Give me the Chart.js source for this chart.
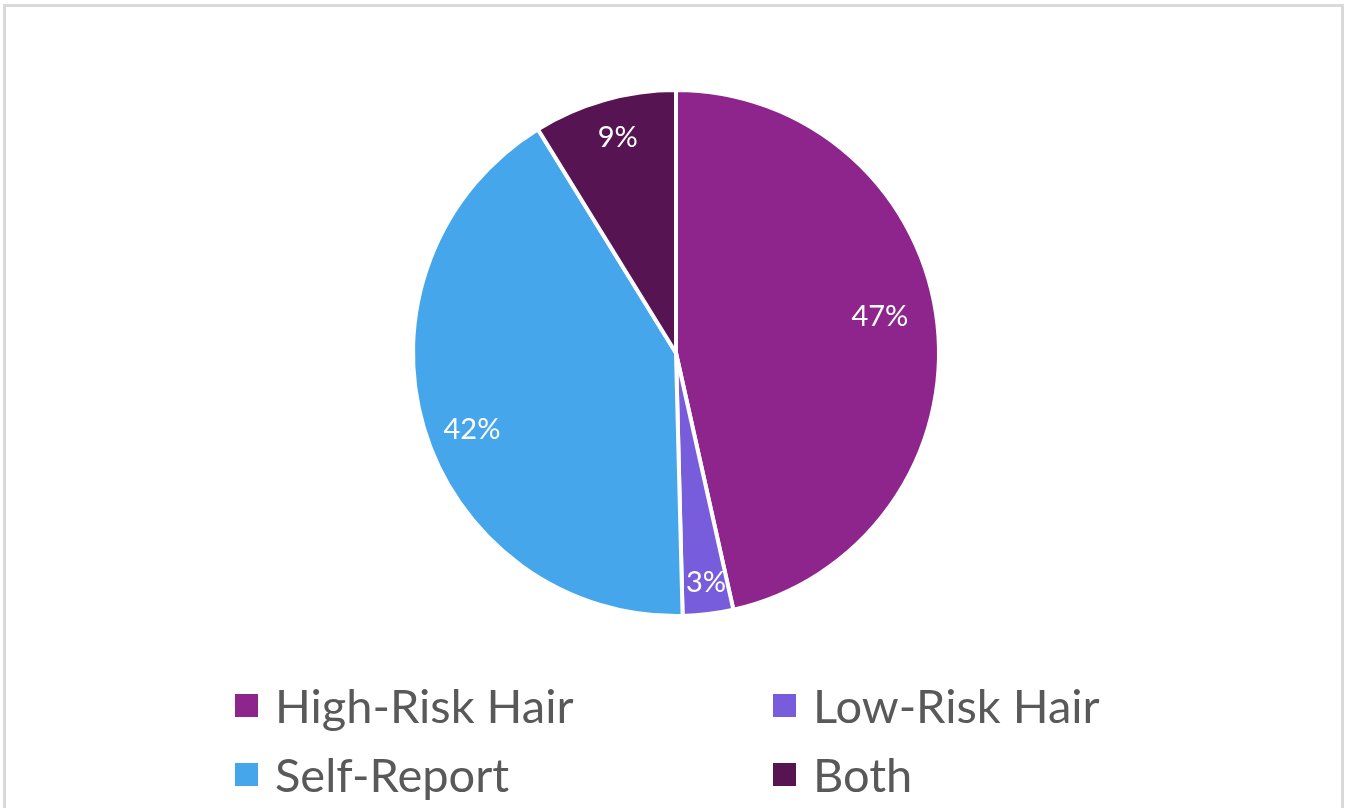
<!DOCTYPE html>
<html>
<head>
<meta charset="utf-8">
<script src="https://cdn.jsdelivr.net/npm/chart.js@4.4.1/dist/chart.umd.min.js"></script>
<style>
  html, body { margin: 0; padding: 0; background: #fff; }
  body { width: 1354px; height: 808px; position: relative; overflow: hidden; font-family: Lato, "Open Sans", sans-serif; }
  #frame { position: absolute; left: 3px; top: 4px; width: 1341px; height: 820px; border: 3px solid #d9d9d9; box-sizing: border-box; }
  #wrap { position: absolute; left: 0; top: 0; width: 1354px; height: 808px; }
  #legend { position: absolute; left: 0; top: 0; width: 1354px; height: 808px; pointer-events: none; }
  .item { position: absolute; display: flex; align-items: center; color: #595959; font-size: 47px; line-height: 1; white-space: nowrap; }
  .sw { width: 23px; height: 23px; margin-right: 17px; flex: none; }
</style>
</head>
<body>
<div id="frame"></div>
<div id="wrap"><canvas id="c" width="1354" height="808"></canvas></div>
<div id="legend"></div>
<script>
const categories = ["High-Risk Hair", "Low-Risk Hair", "Self-Report", "Both"];
const shares = [46.5, 3.1, 41.6, 8.8];
const shareLabels = ["47%", "3%", "42%", "9%"];
const sliceColors = ["#8e258d", "#775ddb", "#46a6ec", "#561552"];

const labelPlugin = {
  id: 'sliceLabels',
  afterDatasetsDraw(chart) {
    const ctx = chart.ctx;
    const meta = chart.getDatasetMeta(0);
    const fracs = [0.787, 0.882, 0.829, 0.848];
    const shiftDeg = [-3.7, -0.4, -4.1, 0.7];
    ctx.save();
    ctx.fillStyle = '#ffffff';
    ctx.font = '29px Lato, "Open Sans", sans-serif';
    ctx.textAlign = 'center';
    ctx.textBaseline = 'middle';
    meta.data.forEach((arc, i) => {
      const p = arc.getProps(['x', 'y', 'startAngle', 'endAngle', 'outerRadius'], true);
      const mid = (p.startAngle + p.endAngle) / 2 + shiftDeg[i] * Math.PI / 180;
      const r = p.outerRadius * fracs[i];
      ctx.fillText(shareLabels[i], p.x + Math.cos(mid) * r, p.y + Math.sin(mid) * r);
    });
    ctx.restore();
  }
};

const chart = new Chart(document.getElementById('c'), {
  type: 'pie',
  data: {
    labels: categories,
    datasets: [{
      data: shares,
      backgroundColor: sliceColors,
      borderColor: '#ffffff',
      borderWidth: 4,
      radius: 263
    }]
  },
  options: {
    responsive: false,
    animation: false,
    layout: { padding: { left: 0, right: 2, top: 0, bottom: 102 } },
    plugins: {
      legend: { display: false },
      tooltip: { enabled: false }
    }
  },
  plugins: [labelPlugin]
});

// HTML legend built from chart data
const legend = document.getElementById('legend');
const positions = [[235, 705], [773, 705], [235, 774], [773, 774]];
chart.data.labels.forEach((lab, i) => {
  const d = document.createElement('div');
  d.className = 'item';
  d.style.left = positions[i][0] + 'px';
  d.style.top = (positions[i][1] - 25) + 'px';
  d.style.height = '50px';
  const s = document.createElement('span');
  s.className = 'sw';
  s.style.background = sliceColors[i];
  const t = document.createElement('span');
  t.textContent = lab;
  d.appendChild(s); d.appendChild(t);
  legend.appendChild(d);
});
</script>
</body>
</html>
